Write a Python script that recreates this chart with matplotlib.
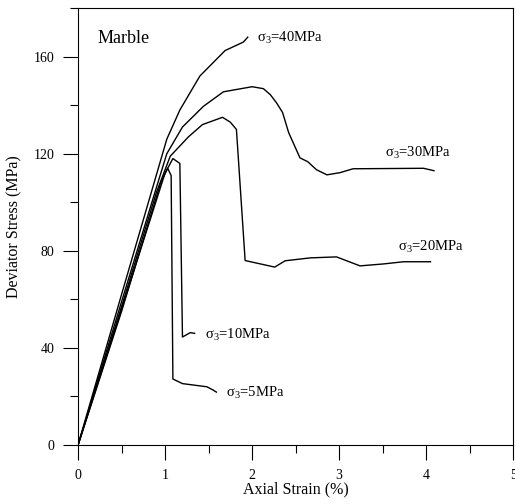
import matplotlib
matplotlib.use("Agg")
import matplotlib.pyplot as plt
from matplotlib.ticker import MultipleLocator

plt.rcParams['font.family'] = ['Liberation Serif', 'DejaVu Serif']
plt.rcParams['mathtext.fontset'] = 'custom'
plt.rcParams['mathtext.rm'] = 'Liberation Serif'

# ===== DADOS =====
x5 = [0, 0.5, 0.95, 1.03, 1.07, 1.09, 1.2, 1.48, 1.55, 1.59]
y5 = [0, 55, 108, 114, 111, 27.2, 25.3, 24.0, 22.7, 21.8]

x10 = [0, 0.5, 1.0, 1.09, 1.17, 1.20, 1.29, 1.34]
y10 = [0, 56, 112, 118, 116, 44.5, 46.3, 46.0]

x20 = [0, 0.5, 0.9, 1.06, 1.27, 1.43, 1.66, 1.75, 1.82, 1.92, 2.26, 2.38,
       2.67, 2.97, 3.24, 3.51, 3.74, 4.05]
y20 = [0, 57, 104, 119, 127, 132, 135, 133, 130, 76, 73.3, 75.9,
       77.1, 77.5, 73.8, 74.6, 75.5, 75.5]

x30 = [0, 0.5, 0.9, 1.02, 1.2, 1.44, 1.67, 2.0, 2.13, 2.21, 2.28, 2.35,
       2.42, 2.55, 2.64, 2.74, 2.86, 3.01, 3.16, 3.97, 4.09]
y30 = [0, 59, 106, 120, 131, 139.5, 145.5, 147.6, 146.8, 144.3, 141, 137,
       128.7, 118.3, 116.7, 113.4, 111.3, 112.2, 113.8, 114.0, 113.0]

x40 = [0, 0.5, 1.02, 1.17, 1.40, 1.69, 1.90, 1.95]
y40 = [0, 62, 126, 138, 152, 162.5, 166, 168]

curves = [(x5, y5), (x10, y10), (x20, y20), (x30, y30), (x40, y40)]
labels = ['5', '10', '20', '30', '40']
label_pos = [(1.70, 21.4), (1.46, 45.4), (3.68, 81.6), (3.53, 120.5), (2.06, 167.8)]

# ===== FIGURA =====
fig = plt.figure(figsize=(5.15, 5.04), dpi=100)
ax = fig.add_axes([0.1515, 0.117, 0.845, 0.867])

for (x, y) in curves:
    ax.plot(x, y, color='black', lw=1.0)

for lab, (lx, ly) in zip(labels, label_pos):
    ax.text(lx, ly, r'σ$_3$=' + lab + 'MPa', fontsize=10.5, va='center', ha='left')

ax.text(0.22, 167.4, 'Marble', fontsize=13, va='center', ha='left')

ax.set_xlim(0, 5)
ax.set_ylim(0, 180)
ax.xaxis.set_major_locator(MultipleLocator(1))
ax.xaxis.set_minor_locator(MultipleLocator(0.5))
ax.yaxis.set_major_locator(MultipleLocator(40))
ax.yaxis.set_minor_locator(MultipleLocator(20))
ax.tick_params(which='major', direction='out', length=11, width=0.8, labelsize=10, pad=6)
ax.tick_params(which='minor', direction='out', length=5.5, width=0.8)
for s in ax.spines.values():
    s.set_linewidth(0.8)

ax.set_xlabel('Axial Strain (%)', fontsize=11.5, labelpad=0)
ax.set_ylabel('Deviator Stress (MPa)', fontsize=11.5, labelpad=8)

plt.savefig('out.png', dpi=100)
